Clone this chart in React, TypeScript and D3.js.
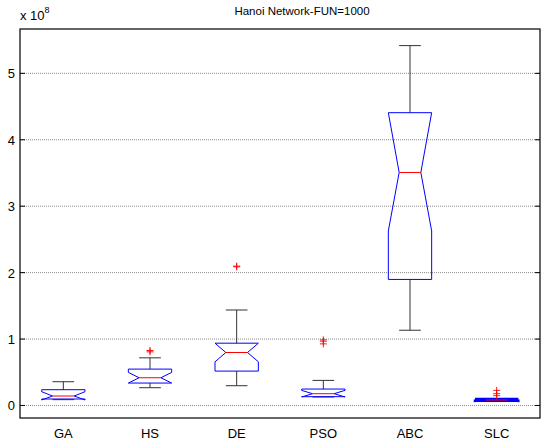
import { useEffect, useRef } from "react";
import * as d3 from "d3";

// values in units of 1e8
const categories = ["GA", "HS", "DE", "PSO", "ABC", "SLC"];
const whiskerLo = [0.08, 0.26, 0.29, 0.12, 1.125, 0.065];
const q1 = [0.09, 0.33, 0.51, 0.125, 1.89, 0.065];
const median = [0.135, 0.41, 0.79, 0.17, 3.5, 0.075];
const q3 = [0.23, 0.54, 0.93, 0.24, 4.4, 0.09];
const whiskerHi = [0.35, 0.71, 1.43, 0.37, 5.41, 0.09];
const notchLo = [0.075, 0.33, 0.65, 0.12, 2.62, 0.06];
const notchHi = [0.2, 0.49, 0.93, 0.22, 4.4, 0.09];
const outliers = [[], [0.82, 0.8], [2.09, 2.08], [0.98, 0.96, 0.92], [], [0.22, 0.17, 0.14]];
const yTicks = [0, 1, 2, 3, 4, 5];

export default function App() {
  const ref = useRef<SVGSVGElement>(null);
  useEffect(() => {
    const svg = d3.select(ref.current);
    svg.selectAll("*").remove();
    const left = 20, right = 540, top = 29, bottom = 418;
    const font = "'Liberation Sans', Arial, sans-serif";

    const x = d3.scaleLinear().domain([0.5, 6.5]).range([left, right]);
    const y = d3.scaleLinear().domain([-0.196, 5.66]).range([bottom, top]);

    // grid
    svg.append("g").selectAll("line").data(yTicks).join("line")
      .attr("x1", left).attr("x2", right)
      .attr("y1", (d) => y(d) + 0.5).attr("y2", (d) => y(d) + 0.5)
      .attr("stroke", "#8a8a8a").attr("stroke-dasharray", "1 1");

    const hw = (x(1) - x(0)) * 0.25;
    const nw = hw / 2;
    const cw = hw / 2;

    categories.forEach((c, i) => {
      const cx = x(i + 1);
      const g = svg.append("g");
      // whiskers
      g.append("line").attr("x1", cx).attr("x2", cx)
        .attr("y1", y(q3[i])).attr("y2", y(whiskerHi[i]))
        .attr("stroke", "#333").attr("stroke-width", 1);
      g.append("line").attr("x1", cx).attr("x2", cx)
        .attr("y1", y(q1[i])).attr("y2", y(whiskerLo[i]))
        .attr("stroke", "#333").attr("stroke-width", 1);
      [whiskerHi[i], whiskerLo[i]].forEach((v) => {
        g.append("line").attr("x1", cx - cw).attr("x2", cx + cw)
          .attr("y1", y(v)).attr("y2", y(v))
          .attr("stroke", "#333").attr("stroke-width", 1);
      });
      // notched box
      const pts: [number, number][] = [
        [cx - hw, y(q1[i])],
        [cx - hw, y(notchLo[i])],
        [cx - nw, y(median[i])],
        [cx - hw, y(notchHi[i])],
        [cx - hw, y(q3[i])],
        [cx + hw, y(q3[i])],
        [cx + hw, y(notchHi[i])],
        [cx + nw, y(median[i])],
        [cx + hw, y(notchLo[i])],
        [cx + hw, y(q1[i])],
      ];
      g.append("path")
        .attr("d", d3.line()(pts) + "Z")
        .attr("fill", "none")
        .attr("stroke", "#0000ff")
        .attr("stroke-width", c === "SLC" ? 2.5 : 1);
      g.append("line").attr("x1", cx - nw).attr("x2", cx + nw)
        .attr("y1", y(median[i])).attr("y2", y(median[i]))
        .attr("stroke", "#ff0000").attr("stroke-width", 1);
      // outliers
      outliers[i].forEach((v) => {
        const oy = y(v);
        g.append("path")
          .attr("d", `M${cx - 3.5},${oy}H${cx + 3.5}M${cx},${oy - 3.5}V${oy + 3.5}`)
          .attr("stroke", "#ff0000").attr("stroke-width", 0.9).attr("fill", "none");
      });
    });

    // frame
    svg.append("rect").attr("x", left).attr("y", top)
      .attr("width", right - left).attr("height", bottom - top)
      .attr("fill", "none").attr("stroke", "#000").attr("stroke-width", 1.2);

    // y ticks
    const yt = svg.append("g");
    yTicks.forEach((t) => {
      const ty = y(t) + 0.5;
      yt.append("line").attr("x1", left).attr("x2", left + 5).attr("y1", ty).attr("y2", ty).attr("stroke", "#000");
      yt.append("line").attr("x1", right - 5).attr("x2", right).attr("y1", ty).attr("y2", ty).attr("stroke", "#000");
      yt.append("text").attr("x", left - 5).attr("y", ty + 5)
        .attr("text-anchor", "end").attr("font-family", font).attr("font-size", 13).text(t);
    });

    // x labels
    categories.forEach((c, i) => {
      svg.append("text").attr("x", x(i + 1)).attr("y", 438)
        .attr("text-anchor", "middle").attr("font-family", font).attr("font-size", 13).text(c);
    });

    // exponent
    const ex = svg.append("text").attr("x", left).attr("y", 20).attr("font-family", font).attr("font-size", 13);
    ex.append("tspan").text("x 10");
    ex.append("tspan").attr("dy", -7).attr("font-size", 9).text("8");

    // title
    svg.append("text").attr("x", 302).attr("y", 15).attr("text-anchor", "middle")
      .attr("font-family", font).attr("font-size", 11.5).text("Hanoi Network-FUN=1000");
  }, []);

  return (
    <svg ref={ref} width={548} height={444}
      style={{ position: "absolute", left: 0, top: 0, background: "#fff" }} />
  );
}
